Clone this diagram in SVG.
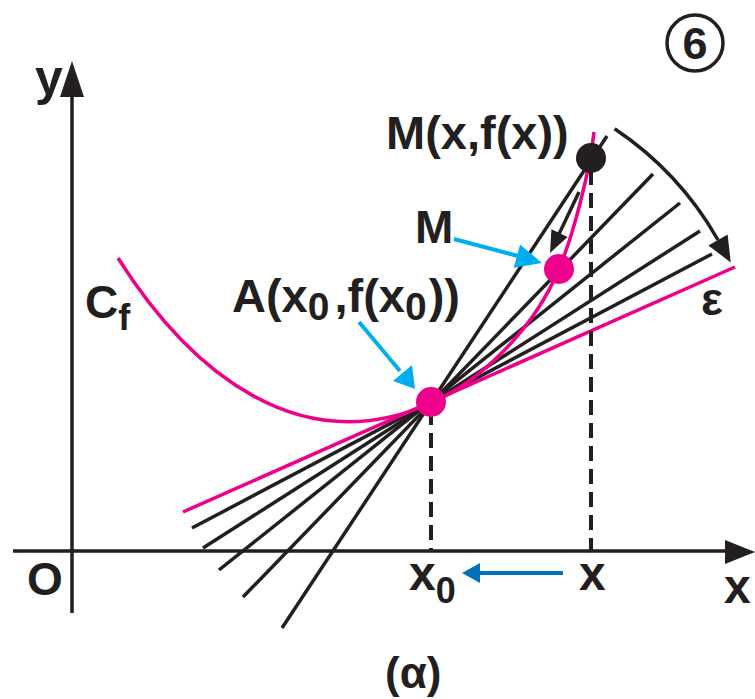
<svg xmlns="http://www.w3.org/2000/svg" width="755" height="699" viewBox="0 0 755 699">
<style>
.t{font-family:"Liberation Sans",Arial,sans-serif;font-weight:bold;fill:#231f20}
.ln{stroke:#231f20;stroke-width:3.5;fill:none}
.mg{stroke:#ec008c;stroke-width:3.5;fill:none}
.ds{stroke:#231f20;stroke-width:4;stroke-dasharray:15 8;fill:none}
.cy{stroke:#00aeef;stroke-width:4;fill:none}
</style>
<rect width="755" height="699" fill="#fff"/>
<g id="axes">
<line class="ln" x1="13" y1="551" x2="728" y2="551"/>
<polygon points="755,552 725,540 725,564" fill="#231f20"/>
<line class="ln" x1="72" y1="613" x2="72" y2="94"/>
<polygon points="72,61 60,97 84,97" fill="#231f20"/>
</g>
<g id="connectors">
<line class="ln" x1="192" y1="528" x2="712" y2="254"/>
<line class="ln" x1="203" y1="548" x2="700" y2="231"/>
<line class="ln" x1="219" y1="570" x2="680" y2="203"/>
<line class="ln" x1="243" y1="597" x2="653" y2="174"/>
<line class="ln" x1="282" y1="628" x2="607" y2="136"/>
<line class="mg" x1="183" y1="512" x2="735" y2="267"/>
<path class="mg" d="M118,258 C190,372 300,462 431,403 C481,381 534,329 559,269 C574,233 590,170 594,132"/>
<line class="ds" x1="431" y1="410" x2="431" y2="551"/>
<line class="ds" x1="591" y1="170" x2="591" y2="551"/>
<path class="ln" d="M614.6,128.8 A330,330 0 0 1 718,240"/>
<polygon points="730.8,262.6 727.6,234.6 708.4,245.4" fill="#231f20"/>
<line class="ln" x1="579" y1="192" x2="559" y2="234"/>
<polygon points="550,253 567.6,237 551.4,229.2" fill="#231f20"/>
<line class="cy" x1="454" y1="239" x2="518" y2="256"/>
<polygon points="542,263 513.7,267.8 520.1,244.6" fill="#00aeef"/>
<line class="cy" x1="359" y1="322" x2="400" y2="371"/>
<polygon points="415,389 393,381 412,365" fill="#00aeef"/>
<line x1="563" y1="573" x2="478" y2="573" stroke="#0072bc" stroke-width="4"/>
<polygon points="462,573 480,563 480,583" fill="#0072bc"/>
</g>
<g id="pointA"><circle cx="431" cy="402" r="15" fill="#ec008c"/></g>
<g id="pointM"><circle cx="559" cy="269" r="15" fill="#ec008c"/></g>
<g id="pointMx"><circle cx="591" cy="158" r="15" fill="#231f20"/></g>
<g id="labels">
<text class="t" x="35" y="95" font-size="50">y</text>
<text class="t" x="85" y="318" font-size="46">C<tspan font-size="36" dy="12">f</tspan></text>
<text class="t" x="386" y="149" font-size="47">M(x,f(x))</text>
<text class="t" x="415" y="243" font-size="46">M</text>
<text class="t" x="232" y="312" font-size="47">A(x<tspan font-size="39" dy="8">0</tspan><tspan dy="-8" dx="5">,f(x</tspan><tspan font-size="39" dy="8">0</tspan><tspan dy="-8" dx="2">))</tspan></text>
<text class="t" x="701" y="315" font-size="46">ε</text>
<text class="t" x="27" y="595" font-size="46">O</text>
<text class="t" x="409" y="590" font-size="48">x<tspan font-size="36" dy="13">0</tspan></text>
<text class="t" x="579" y="590" font-size="48">x</text>
<text class="t" x="724" y="603" font-size="48">x</text>
<text class="t" x="385" y="688" font-size="44">(α)</text>
</g>
<g id="badge">
<circle cx="695" cy="43" r="28" fill="none" stroke="#231f20" stroke-width="3.5"/>
<text class="t" x="695" y="59" font-size="45" text-anchor="middle">6</text>
</g>
</svg>
